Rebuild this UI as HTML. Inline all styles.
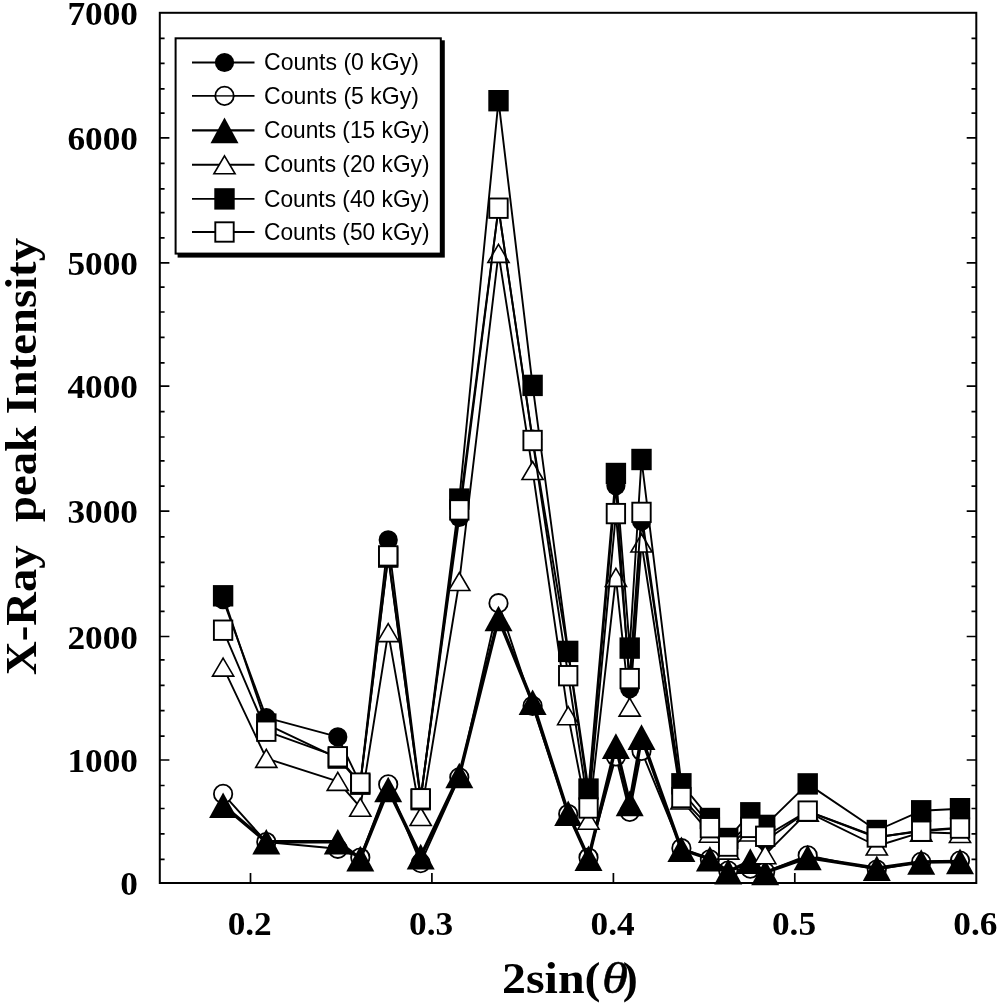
<!DOCTYPE html>
<html lang="en">
<head>
<meta charset="utf-8">
<title>X-Ray peak Intensity vs 2sin(θ)</title>
<style>
html,body{margin:0;padding:0;background:#fff;}
body{width:998px;height:1003px;overflow:hidden;}
svg{display:block;filter:blur(0.35px);}
.tl{font-family:"Liberation Serif","Times New Roman",serif;font-weight:bold;font-size:33px;fill:#000;}
.yl{font-family:"Liberation Serif","Times New Roman",serif;font-weight:bold;font-size:44px;fill:#000;}
.xl{font-family:"Liberation Serif","Times New Roman",serif;font-weight:bold;font-size:44px;fill:#000;}
.th{font-style:italic;font-weight:normal;font-size:44.5px;stroke:#000;stroke-width:0.5px;}
.lt{font-family:"Liberation Sans",Arial,sans-serif;font-size:23.7px;fill:#000;}
</style>
</head>
<body>
<svg width="998" height="1003" viewBox="0 0 998 1003">
<rect width="998" height="1003" fill="#fff"/>
<rect x="159.8" y="12.8" width="816.5" height="870.2" fill="none" stroke="#000" stroke-width="2"/>
<path d="M159.8 859.4h4.8M976.3 859.4h-4.8M159.8 833.9h4.8M976.3 833.9h-4.8M159.8 808.5h4.8M976.3 808.5h-4.8M159.8 785.5h4.8M976.3 785.5h-4.8M159.8 760.0h9.6M976.3 760.0h-9.6M159.8 736.1h4.8M976.3 736.1h-4.8M159.8 710.7h4.8M976.3 710.7h-4.8M159.8 685.3h4.8M976.3 685.3h-4.8M159.8 659.8h4.8M976.3 659.8h-4.8M159.8 636.5h9.6M976.3 636.5h-9.6M159.8 611.4h4.8M976.3 611.4h-4.8M159.8 586.3h4.8M976.3 586.3h-4.8M159.8 562.3h4.8M976.3 562.3h-4.8M159.8 536.9h4.8M976.3 536.9h-4.8M159.8 511.2h9.6M976.3 511.2h-9.6M159.8 486.1h4.8M976.3 486.1h-4.8M159.8 460.9h4.8M976.3 460.9h-4.8M159.8 437.0h4.8M976.3 437.0h-4.8M159.8 411.6h4.8M976.3 411.6h-4.8M159.8 386.2h9.6M976.3 386.2h-9.6M159.8 362.8h4.8M976.3 362.8h-4.8M159.8 337.4h4.8M976.3 337.4h-4.8M159.8 312.0h4.8M976.3 312.0h-4.8M159.8 287.2h4.8M976.3 287.2h-4.8M159.8 262.9h9.6M976.3 262.9h-9.6M159.8 237.8h4.8M976.3 237.8h-4.8M159.8 212.7h4.8M976.3 212.7h-4.8M159.8 188.8h4.8M976.3 188.8h-4.8M159.8 163.3h4.8M976.3 163.3h-4.8M159.8 137.9h9.6M976.3 137.9h-9.6M159.8 113.1h4.8M976.3 113.1h-4.8M159.8 88.8h4.8M976.3 88.8h-4.8M159.8 63.4h4.8M976.3 63.4h-4.8M159.8 38.3h4.8M976.3 38.3h-4.8M250.5 883.0v-10M431.9 883.0v-10M613.4 883.0v-10M794.8 883.0v-10" stroke="#000" stroke-width="1.7" fill="none"/>
<text class="tl" transform="translate(138.0 894.7) scale(1.07 1)" text-anchor="end">0</text>
<text class="tl" transform="translate(138.0 772.0) scale(1.07 1)" text-anchor="end">1000</text>
<text class="tl" transform="translate(138.0 648.5) scale(1.07 1)" text-anchor="end">2000</text>
<text class="tl" transform="translate(138.0 523.2) scale(1.07 1)" text-anchor="end">3000</text>
<text class="tl" transform="translate(138.0 398.2) scale(1.07 1)" text-anchor="end">4000</text>
<text class="tl" transform="translate(138.0 274.9) scale(1.07 1)" text-anchor="end">5000</text>
<text class="tl" transform="translate(138.0 149.9) scale(1.07 1)" text-anchor="end">6000</text>
<text class="tl" transform="translate(138.0 24.9) scale(1.07 1)" text-anchor="end">7000</text>
<text class="tl" transform="translate(249.7 934.9) scale(1.07 1)" text-anchor="middle">0.2</text>
<text class="tl" transform="translate(431.1 934.9) scale(1.07 1)" text-anchor="middle">0.3</text>
<text class="tl" transform="translate(612.6 934.9) scale(1.07 1)" text-anchor="middle">0.4</text>
<text class="tl" transform="translate(794.0 934.9) scale(1.07 1)" text-anchor="middle">0.5</text>
<text class="tl" transform="translate(975.4 934.9) scale(1.07 1)" text-anchor="middle">0.6</text>
<text class="yl" transform="translate(35.5 675) rotate(-90)" textLength="437" lengthAdjust="spacingAndGlyphs" xml:space="preserve" style="white-space:pre">X-Ray  peak Intensity</text>
<text class="xl" x="502" y="992.5" textLength="98.5" lengthAdjust="spacingAndGlyphs">2sin(</text>
<text class="xl th" x="602" y="992.5" textLength="26" lengthAdjust="spacingAndGlyphs">θ</text>
<text class="xl" x="622.8" y="992.5" textLength="15" lengthAdjust="spacingAndGlyphs">)</text>
<g id="series">
<polyline points="223.1,599.6 266.3,717.7 337.8,736.9 360.3,783.6 388.2,539.9 420.7,797.2 459.3,517.5 498.5,208.0 532.6,439.2 568.2,653.0 588.5,796.0 615.9,485.7 629.7,688.6 641.5,521.3 681.4,791.0 709.9,824.6 728.2,843.2 750.3,823.3 765.2,840.7 807.7,811.3 876.8,837.5 921.2,830.5 960.0,827.6" fill="none" stroke="#000" stroke-width="1.9" stroke-linejoin="round"/>
<circle cx="223.1" cy="599.6" r="9.6" fill="#000"/>
<circle cx="266.3" cy="717.7" r="9.6" fill="#000"/>
<circle cx="337.8" cy="736.9" r="9.6" fill="#000"/>
<circle cx="360.3" cy="783.6" r="9.6" fill="#000"/>
<circle cx="388.2" cy="539.9" r="9.6" fill="#000"/>
<circle cx="420.7" cy="797.2" r="9.6" fill="#000"/>
<circle cx="459.3" cy="517.5" r="9.6" fill="#000"/>
<circle cx="498.5" cy="208.0" r="9.6" fill="#000"/>
<circle cx="532.6" cy="439.2" r="9.6" fill="#000"/>
<circle cx="568.2" cy="653.0" r="9.6" fill="#000"/>
<circle cx="588.5" cy="796.0" r="9.6" fill="#000"/>
<circle cx="615.9" cy="485.7" r="9.6" fill="#000"/>
<circle cx="629.7" cy="688.6" r="9.6" fill="#000"/>
<circle cx="641.5" cy="521.3" r="9.6" fill="#000"/>
<circle cx="681.4" cy="791.0" r="9.6" fill="#000"/>
<circle cx="709.9" cy="824.6" r="9.6" fill="#000"/>
<circle cx="728.2" cy="843.2" r="9.6" fill="#000"/>
<circle cx="750.3" cy="823.3" r="9.6" fill="#000"/>
<circle cx="765.2" cy="840.7" r="9.6" fill="#000"/>
<circle cx="807.7" cy="811.3" r="9.6" fill="#000"/>
<circle cx="876.8" cy="837.5" r="9.6" fill="#000"/>
<circle cx="921.2" cy="830.5" r="9.6" fill="#000"/>
<circle cx="960.0" cy="827.6" r="9.6" fill="#000"/>
<polyline points="223.1,793.9 266.3,842.0 337.8,848.8 360.3,857.5 388.2,784.4 420.7,863.2 459.3,777.3 498.5,603.2 532.6,705.9 568.2,814.0 588.5,857.5 615.9,756.5 629.7,811.9 641.5,751.0 681.4,848.2 709.9,859.4 728.2,870.6 750.3,868.7 765.2,871.8 807.7,855.4 876.8,869.6 921.2,861.9 960.0,860.6" fill="none" stroke="#000" stroke-width="1.9" stroke-linejoin="round"/>
<circle cx="223.1" cy="793.9" r="9.2" fill="#fff" stroke="#000" stroke-width="1.8"/>
<circle cx="266.3" cy="842.0" r="9.2" fill="#fff" stroke="#000" stroke-width="1.8"/>
<circle cx="337.8" cy="848.8" r="9.2" fill="#fff" stroke="#000" stroke-width="1.8"/>
<circle cx="360.3" cy="857.5" r="9.2" fill="#fff" stroke="#000" stroke-width="1.8"/>
<circle cx="388.2" cy="784.4" r="9.2" fill="#fff" stroke="#000" stroke-width="1.8"/>
<circle cx="420.7" cy="863.2" r="9.2" fill="#fff" stroke="#000" stroke-width="1.8"/>
<circle cx="459.3" cy="777.3" r="9.2" fill="#fff" stroke="#000" stroke-width="1.8"/>
<circle cx="498.5" cy="603.2" r="9.2" fill="#fff" stroke="#000" stroke-width="1.8"/>
<circle cx="532.6" cy="705.9" r="9.2" fill="#fff" stroke="#000" stroke-width="1.8"/>
<circle cx="568.2" cy="814.0" r="9.2" fill="#fff" stroke="#000" stroke-width="1.8"/>
<circle cx="588.5" cy="857.5" r="9.2" fill="#fff" stroke="#000" stroke-width="1.8"/>
<circle cx="615.9" cy="756.5" r="9.2" fill="#fff" stroke="#000" stroke-width="1.8"/>
<circle cx="629.7" cy="811.9" r="9.2" fill="#fff" stroke="#000" stroke-width="1.8"/>
<circle cx="641.5" cy="751.0" r="9.2" fill="#fff" stroke="#000" stroke-width="1.8"/>
<circle cx="681.4" cy="848.2" r="9.2" fill="#fff" stroke="#000" stroke-width="1.8"/>
<circle cx="709.9" cy="859.4" r="9.2" fill="#fff" stroke="#000" stroke-width="1.8"/>
<circle cx="728.2" cy="870.6" r="9.2" fill="#fff" stroke="#000" stroke-width="1.8"/>
<circle cx="750.3" cy="868.7" r="9.2" fill="#fff" stroke="#000" stroke-width="1.8"/>
<circle cx="765.2" cy="871.8" r="9.2" fill="#fff" stroke="#000" stroke-width="1.8"/>
<circle cx="807.7" cy="855.4" r="9.2" fill="#fff" stroke="#000" stroke-width="1.8"/>
<circle cx="876.8" cy="869.6" r="9.2" fill="#fff" stroke="#000" stroke-width="1.8"/>
<circle cx="921.2" cy="861.9" r="9.2" fill="#fff" stroke="#000" stroke-width="1.8"/>
<circle cx="960.0" cy="860.6" r="9.2" fill="#fff" stroke="#000" stroke-width="1.8"/>
<polyline points="223.1,805.3 266.3,841.7 337.8,841.7 360.3,858.6 388.2,789.5 420.7,856.6 459.3,775.5 498.5,618.5 532.6,702.3 568.2,813.3 588.5,858.3 615.9,746.1 629.7,803.4 641.5,737.1 681.4,849.3 709.9,858.8 728.2,871.6 750.3,861.1 765.2,872.4 807.7,857.5 876.8,868.3 921.2,862.0 960.0,861.4" fill="none" stroke="#000" stroke-width="3.5" stroke-linejoin="round"/>
<path d="M223.1 792.5L237.1 818.1H209.1Z" fill="#000"/>
<path d="M266.3 828.9L280.3 854.5H252.3Z" fill="#000"/>
<path d="M337.8 828.9L351.8 854.5H323.8Z" fill="#000"/>
<path d="M360.3 845.8L374.3 871.4H346.3Z" fill="#000"/>
<path d="M388.2 776.7L402.2 802.3H374.2Z" fill="#000"/>
<path d="M420.7 843.8L434.7 869.4H406.7Z" fill="#000"/>
<path d="M459.3 762.7L473.3 788.3H445.3Z" fill="#000"/>
<path d="M498.5 605.7L512.5 631.3H484.5Z" fill="#000"/>
<path d="M532.6 689.5L546.6 715.1H518.6Z" fill="#000"/>
<path d="M568.2 800.5L582.2 826.1H554.2Z" fill="#000"/>
<path d="M588.5 845.5L602.5 871.1H574.5Z" fill="#000"/>
<path d="M615.9 733.3L629.9 758.9H601.9Z" fill="#000"/>
<path d="M629.7 790.6L643.7 816.2H615.7Z" fill="#000"/>
<path d="M641.5 724.3L655.5 749.9H627.5Z" fill="#000"/>
<path d="M681.4 836.5L695.4 862.1H667.4Z" fill="#000"/>
<path d="M709.9 846.0L723.9 871.6H695.9Z" fill="#000"/>
<path d="M728.2 858.8L742.2 884.4H714.2Z" fill="#000"/>
<path d="M750.3 848.3L764.3 873.9H736.3Z" fill="#000"/>
<path d="M765.2 859.6L779.2 885.2H751.2Z" fill="#000"/>
<path d="M807.7 844.7L821.7 870.3H793.7Z" fill="#000"/>
<path d="M876.8 855.5L890.8 881.1H862.8Z" fill="#000"/>
<path d="M921.2 849.2L935.2 874.8H907.2Z" fill="#000"/>
<path d="M960.0 848.6L974.0 874.2H946.0Z" fill="#000"/>
<polyline points="223.1,667.1 266.3,758.4 337.8,781.4 360.3,807.3 388.2,632.6 420.7,816.5 459.3,581.5 498.5,253.4 532.6,470.5 568.2,715.7 588.5,820.2 615.9,577.4 629.7,707.1 641.5,543.0 681.4,800.0 709.9,833.2 728.2,850.1 750.3,832.0 765.2,854.7 807.7,812.1 876.8,846.0 921.2,832.3 960.0,833.5" fill="none" stroke="#000" stroke-width="1.9" stroke-linejoin="round"/>
<path d="M223.1 658.1L233.7 676.1H212.5Z" fill="#fff" stroke="#000" stroke-width="1.6" stroke-linejoin="miter"/>
<path d="M266.3 749.4L276.9 767.4H255.7Z" fill="#fff" stroke="#000" stroke-width="1.6" stroke-linejoin="miter"/>
<path d="M337.8 772.4L348.4 790.4H327.2Z" fill="#fff" stroke="#000" stroke-width="1.6" stroke-linejoin="miter"/>
<path d="M360.3 798.3L370.9 816.3H349.7Z" fill="#fff" stroke="#000" stroke-width="1.6" stroke-linejoin="miter"/>
<path d="M388.2 623.6L398.8 641.6H377.6Z" fill="#fff" stroke="#000" stroke-width="1.6" stroke-linejoin="miter"/>
<path d="M420.7 807.5L431.3 825.5H410.1Z" fill="#fff" stroke="#000" stroke-width="1.6" stroke-linejoin="miter"/>
<path d="M459.3 572.5L469.9 590.5H448.7Z" fill="#fff" stroke="#000" stroke-width="1.6" stroke-linejoin="miter"/>
<path d="M498.5 244.4L509.1 262.4H487.9Z" fill="#fff" stroke="#000" stroke-width="1.6" stroke-linejoin="miter"/>
<path d="M532.6 461.5L543.2 479.5H522.0Z" fill="#fff" stroke="#000" stroke-width="1.6" stroke-linejoin="miter"/>
<path d="M568.2 706.7L578.8 724.7H557.6Z" fill="#fff" stroke="#000" stroke-width="1.6" stroke-linejoin="miter"/>
<path d="M588.5 811.2L599.1 829.2H577.9Z" fill="#fff" stroke="#000" stroke-width="1.6" stroke-linejoin="miter"/>
<path d="M615.9 568.4L626.5 586.4H605.3Z" fill="#fff" stroke="#000" stroke-width="1.6" stroke-linejoin="miter"/>
<path d="M629.7 698.1L640.3 716.1H619.1Z" fill="#fff" stroke="#000" stroke-width="1.6" stroke-linejoin="miter"/>
<path d="M641.5 534.0L652.1 552.0H630.9Z" fill="#fff" stroke="#000" stroke-width="1.6" stroke-linejoin="miter"/>
<path d="M681.4 791.0L692.0 809.0H670.8Z" fill="#fff" stroke="#000" stroke-width="1.6" stroke-linejoin="miter"/>
<path d="M709.9 824.2L720.5 842.2H699.3Z" fill="#fff" stroke="#000" stroke-width="1.6" stroke-linejoin="miter"/>
<path d="M728.2 841.1L738.8 859.1H717.6Z" fill="#fff" stroke="#000" stroke-width="1.6" stroke-linejoin="miter"/>
<path d="M750.3 823.0L760.9 841.0H739.7Z" fill="#fff" stroke="#000" stroke-width="1.6" stroke-linejoin="miter"/>
<path d="M765.2 845.7L775.8 863.7H754.6Z" fill="#fff" stroke="#000" stroke-width="1.6" stroke-linejoin="miter"/>
<path d="M807.7 803.1L818.3 821.1H797.1Z" fill="#fff" stroke="#000" stroke-width="1.6" stroke-linejoin="miter"/>
<path d="M876.8 837.0L887.4 855.0H866.2Z" fill="#fff" stroke="#000" stroke-width="1.6" stroke-linejoin="miter"/>
<path d="M921.2 823.3L931.8 841.3H910.6Z" fill="#fff" stroke="#000" stroke-width="1.6" stroke-linejoin="miter"/>
<path d="M960.0 824.5L970.6 842.5H949.4Z" fill="#fff" stroke="#000" stroke-width="1.6" stroke-linejoin="miter"/>
<polyline points="223.1,595.8 266.3,724.1 337.8,758.1 360.3,784.2 388.2,557.1 420.7,799.7 459.3,499.1 498.5,100.7 532.6,385.4 568.2,651.4 588.5,789.1 615.9,473.5 629.7,648.1 641.5,459.5 681.4,783.8 709.9,818.5 728.2,838.5 750.3,812.8 765.2,825.4 807.7,783.9 876.8,830.5 921.2,810.8 960.0,808.7" fill="none" stroke="#000" stroke-width="1.9" stroke-linejoin="round"/>
<rect x="212.9" y="585.1" width="20.4" height="21.4" fill="#000"/>
<rect x="256.1" y="713.4" width="20.4" height="21.4" fill="#000"/>
<rect x="327.6" y="747.4" width="20.4" height="21.4" fill="#000"/>
<rect x="350.1" y="773.5" width="20.4" height="21.4" fill="#000"/>
<rect x="378.0" y="546.4" width="20.4" height="21.4" fill="#000"/>
<rect x="410.5" y="789.0" width="20.4" height="21.4" fill="#000"/>
<rect x="449.1" y="488.4" width="20.4" height="21.4" fill="#000"/>
<rect x="488.3" y="90.0" width="20.4" height="21.4" fill="#000"/>
<rect x="522.4" y="374.7" width="20.4" height="21.4" fill="#000"/>
<rect x="558.0" y="640.7" width="20.4" height="21.4" fill="#000"/>
<rect x="578.3" y="778.4" width="20.4" height="21.4" fill="#000"/>
<rect x="605.7" y="462.8" width="20.4" height="21.4" fill="#000"/>
<rect x="619.5" y="637.4" width="20.4" height="21.4" fill="#000"/>
<rect x="631.3" y="448.8" width="20.4" height="21.4" fill="#000"/>
<rect x="671.2" y="773.1" width="20.4" height="21.4" fill="#000"/>
<rect x="699.7" y="807.8" width="20.4" height="21.4" fill="#000"/>
<rect x="718.0" y="827.8" width="20.4" height="21.4" fill="#000"/>
<rect x="740.1" y="802.1" width="20.4" height="21.4" fill="#000"/>
<rect x="755.0" y="814.7" width="20.4" height="21.4" fill="#000"/>
<rect x="797.5" y="773.2" width="20.4" height="21.4" fill="#000"/>
<rect x="866.6" y="819.8" width="20.4" height="21.4" fill="#000"/>
<rect x="911.0" y="800.1" width="20.4" height="21.4" fill="#000"/>
<rect x="949.8" y="798.0" width="20.4" height="21.4" fill="#000"/>
<polyline points="223.1,630.2 266.3,731.2 337.8,756.8 360.3,783.1 388.2,555.9 420.7,798.8 459.3,509.9 498.5,208.2 532.6,440.5 568.2,675.7 588.5,808.0 615.9,513.6 629.7,678.6 641.5,512.4 681.4,797.6 709.9,827.7 728.2,846.1 750.3,827.4 765.2,836.3 807.7,811.1 876.8,837.0 921.2,831.2 960.0,828.1" fill="none" stroke="#000" stroke-width="1.9" stroke-linejoin="round"/>
<rect x="213.9" y="620.5" width="18.4" height="19.4" fill="#fff" stroke="#000" stroke-width="1.9"/>
<rect x="257.1" y="721.5" width="18.4" height="19.4" fill="#fff" stroke="#000" stroke-width="1.9"/>
<rect x="328.6" y="747.1" width="18.4" height="19.4" fill="#fff" stroke="#000" stroke-width="1.9"/>
<rect x="351.1" y="773.4" width="18.4" height="19.4" fill="#fff" stroke="#000" stroke-width="1.9"/>
<rect x="379.0" y="546.2" width="18.4" height="19.4" fill="#fff" stroke="#000" stroke-width="1.9"/>
<rect x="411.5" y="789.1" width="18.4" height="19.4" fill="#fff" stroke="#000" stroke-width="1.9"/>
<rect x="450.1" y="500.2" width="18.4" height="19.4" fill="#fff" stroke="#000" stroke-width="1.9"/>
<rect x="489.3" y="198.5" width="18.4" height="19.4" fill="#fff" stroke="#000" stroke-width="1.9"/>
<rect x="523.4" y="430.8" width="18.4" height="19.4" fill="#fff" stroke="#000" stroke-width="1.9"/>
<rect x="559.0" y="666.0" width="18.4" height="19.4" fill="#fff" stroke="#000" stroke-width="1.9"/>
<rect x="579.3" y="798.3" width="18.4" height="19.4" fill="#fff" stroke="#000" stroke-width="1.9"/>
<rect x="606.7" y="503.9" width="18.4" height="19.4" fill="#fff" stroke="#000" stroke-width="1.9"/>
<rect x="620.5" y="668.9" width="18.4" height="19.4" fill="#fff" stroke="#000" stroke-width="1.9"/>
<rect x="632.3" y="502.7" width="18.4" height="19.4" fill="#fff" stroke="#000" stroke-width="1.9"/>
<rect x="672.2" y="787.9" width="18.4" height="19.4" fill="#fff" stroke="#000" stroke-width="1.9"/>
<rect x="700.7" y="818.0" width="18.4" height="19.4" fill="#fff" stroke="#000" stroke-width="1.9"/>
<rect x="719.0" y="836.4" width="18.4" height="19.4" fill="#fff" stroke="#000" stroke-width="1.9"/>
<rect x="741.1" y="817.7" width="18.4" height="19.4" fill="#fff" stroke="#000" stroke-width="1.9"/>
<rect x="756.0" y="826.6" width="18.4" height="19.4" fill="#fff" stroke="#000" stroke-width="1.9"/>
<rect x="798.5" y="801.4" width="18.4" height="19.4" fill="#fff" stroke="#000" stroke-width="1.9"/>
<rect x="867.6" y="827.3" width="18.4" height="19.4" fill="#fff" stroke="#000" stroke-width="1.9"/>
<rect x="912.0" y="821.5" width="18.4" height="19.4" fill="#fff" stroke="#000" stroke-width="1.9"/>
<rect x="950.8" y="818.4" width="18.4" height="19.4" fill="#fff" stroke="#000" stroke-width="1.9"/>
</g>
<rect x="178.6" y="41.3" width="265.2" height="215.3" fill="#000" stroke="#000" stroke-width="2"/>
<rect x="175.6" y="38.3" width="265.2" height="215.3" fill="#fff" stroke="#000" stroke-width="2"/>
<path d="M192 62.5H254.5" stroke="#000" stroke-width="1.9"/>
<circle cx="224.5" cy="62.5" r="9.6" fill="#000"/>
<text class="lt" x="264" y="70.1" textLength="155" lengthAdjust="spacingAndGlyphs">Counts (0 kGy)</text>
<path d="M192 95.9H254.5" stroke="#000" stroke-width="1.9"/>
<circle cx="224.5" cy="95.9" r="9.2" fill="#fff" stroke="#000" stroke-width="1.8"/>
<path d="M214 95.9H235" stroke="#000" stroke-width="1.4"/>
<text class="lt" x="264" y="103.5" textLength="155" lengthAdjust="spacingAndGlyphs">Counts (5 kGy)</text>
<path d="M192 130.4H254.5" stroke="#000" stroke-width="2.4"/>
<path d="M224.5 117.6L238.5 143.2H210.5Z" fill="#000"/>
<text class="lt" x="264" y="138.0" textLength="165.5" lengthAdjust="spacingAndGlyphs">Counts (15 kGy)</text>
<path d="M192 164.8H254.5" stroke="#000" stroke-width="1.9"/>
<path d="M224.5 155.8L235.1 173.8H213.9Z" fill="#fff" stroke="#000" stroke-width="1.6" stroke-linejoin="miter"/>
<text class="lt" x="264" y="172.4" textLength="165.5" lengthAdjust="spacingAndGlyphs">Counts (20 kGy)</text>
<path d="M192 198.9H254.5" stroke="#000" stroke-width="1.9"/>
<rect x="214.3" y="188.2" width="20.4" height="21.4" fill="#000"/>
<text class="lt" x="264" y="206.5" textLength="165.5" lengthAdjust="spacingAndGlyphs">Counts (40 kGy)</text>
<path d="M192 232.0H254.5" stroke="#000" stroke-width="1.9"/>
<rect x="215.3" y="222.3" width="18.4" height="19.4" fill="#fff" stroke="#000" stroke-width="1.9"/>
<text class="lt" x="264" y="239.6" textLength="165.5" lengthAdjust="spacingAndGlyphs">Counts (50 kGy)</text>
</svg>
</body>
</html>
